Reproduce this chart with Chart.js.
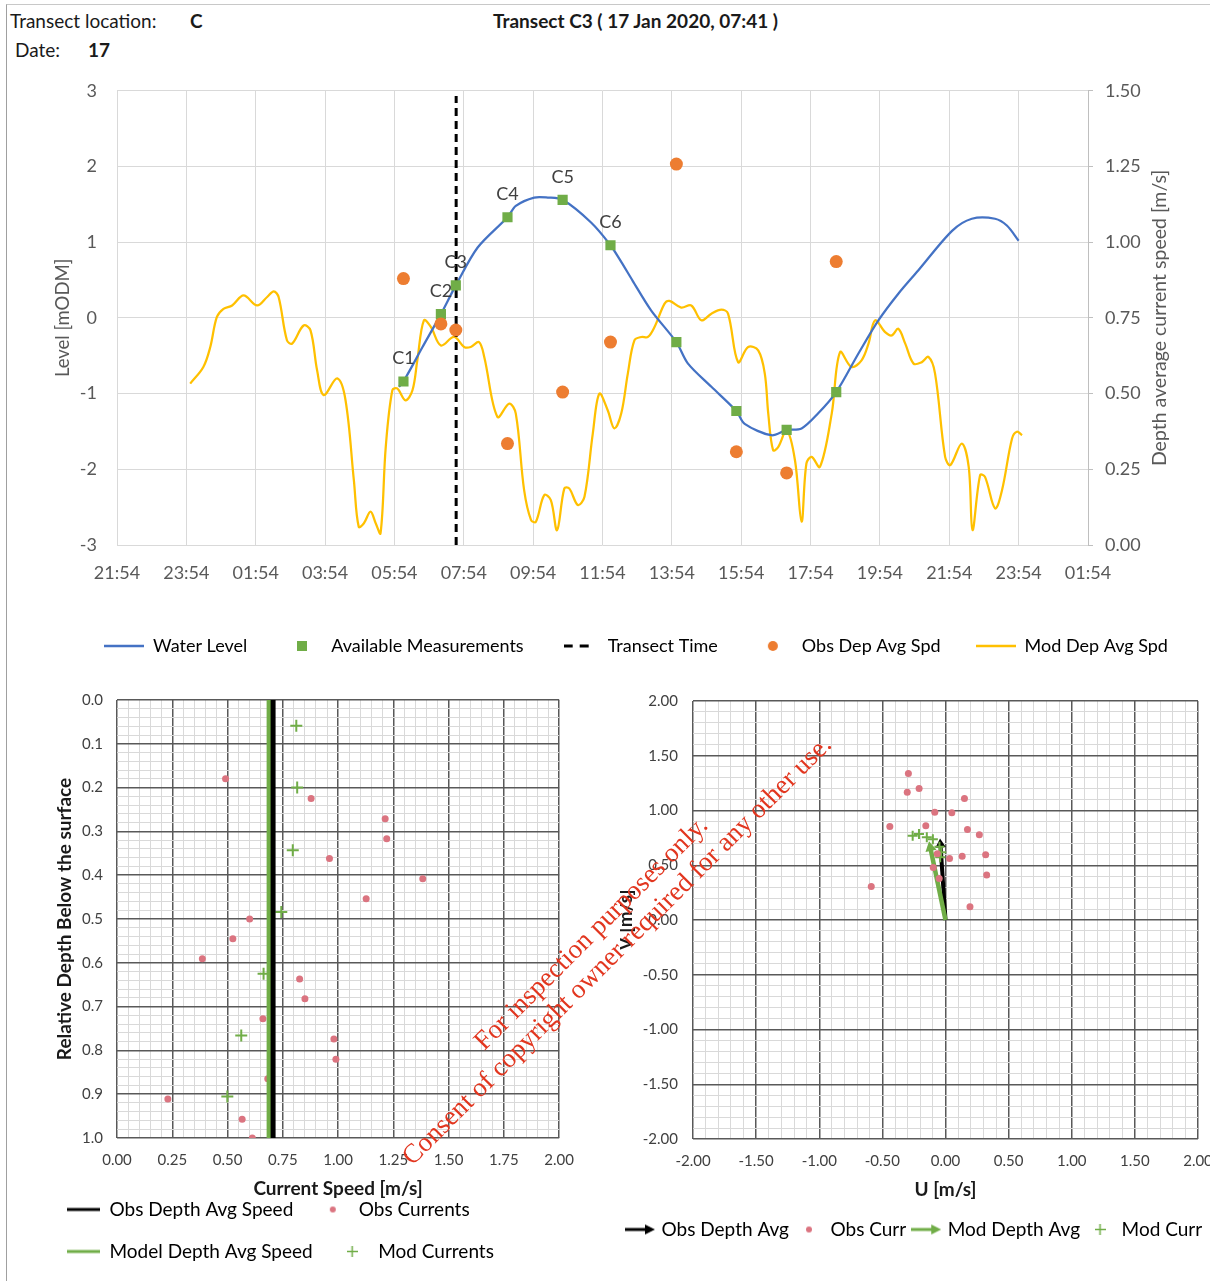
<!DOCTYPE html>
<html>
<head>
<meta charset="utf-8">
<script src="https://cdn.jsdelivr.net/npm/chart.js@4.4.1/dist/chart.umd.min.js"></script>
<style>
html, body { margin: 0; padding: 0; background: #fff; }
body { width: 1210px; height: 1281px; position: relative; overflow: hidden; font-family: Lato, sans-serif; }
.frame { position: absolute; left: 6px; top: 4px; width: 1300px; height: 1300px; border-left: 1.5px solid #a0a0a0; border-top: 1.5px solid #c8c8c8; }
.cell { position: absolute; font-size: 19px; color: #1a1a1a; white-space: nowrap; line-height: 22px; }
.b { font-weight: bold; }
.wm { position: absolute; font-family: "Liberation Serif", serif; font-size: 27px; color: #e2361f; white-space: nowrap; line-height: 30px; transform-origin: 0 50%; transform: rotate(-45deg); z-index: 5; }
canvas { position: absolute; }
</style>
</head>
<body>
<div class="frame"></div>
<div class="cell" style="left:10px;top:10px">Transect location:</div>
<div class="cell b" style="left:190px;top:10px">C</div>
<div class="cell" style="left:15px;top:39px">Date:</div>
<div class="cell b" style="left:88px;top:39px">17</div>
<div class="cell b" style="left:493px;top:10px">Transect C3 ( 17 Jan 2020, 07:41 )</div>

<canvas id="tide" width="1272" height="605" style="left:0;top:60px"></canvas>
<canvas id="profile" width="543" height="594" style="left:44px;top:677px"></canvas>
<canvas id="vectors" width="700" height="572" style="left:620px;top:677px"></canvas>

<div class="wm" style="left:478px;top:1030px">For inspection purposes only.</div>
<div class="wm" style="left:406px;top:1145px">Consent of copyright owner required for any other use.</div>

<script>
// ---- top chart: hours after 16 Jan 21:54 ----
const timeTickLabels = ['21:54','23:54','01:54','03:54','05:54','07:54','09:54','11:54','13:54','15:54','17:54','19:54','21:54','23:54','01:54'];

const waterHours = [8.13, 8.26, 8.81, 9.34, 9.77, 10.40, 11.26, 11.50, 12.03, 12.42, 12.85, 13.67, 14.23, 14.54, 14.87, 15.40, 16.13, 16.46, 17.14, 17.86, 18.10, 18.87, 19.31, 19.74, 20.22, 20.74, 21.38, 21.96, 22.53, 23.11, 24.08, 24.65, 25.32, 25.66, 26.00];
const waterLevel = [-0.91, -0.84, -0.385, 0.05, 0.43, 0.93, 1.33, 1.48, 1.59, 1.59, 1.56, 1.26, 0.96, 0.74, 0.49, 0.10, -0.32, -0.60, -0.91, -1.23, -1.40, -1.55, -1.48, -1.46, -1.26, -0.98, -0.47, -0.03, 0.32, 0.63, 1.15, 1.31, 1.31, 1.22, 1.02];

const measLabels = ['C1', 'C2', 'C3', 'C4', 'C5', 'C6', '', '', '', ''];
const measHours = [8.26, 9.34, 9.77, 11.26, 12.85, 14.23, 16.13, 17.86, 19.31, 20.74];
const measLevel = [-0.84, 0.05, 0.43, 1.33, 1.56, 0.96, -0.32, -1.23, -1.48, -0.98];
const obsDepAvgSpd = [0.88, 0.73, 0.71, 0.335, 0.505, 0.67, 1.258, 0.308, 0.238, 0.936];

const transectHour = 9.78; // 07:41

const modHours = [2.11, 2.49, 2.69, 2.88, 3.07, 3.32, 3.65, 4.04, 4.33, 4.52, 4.66, 4.90, 5.05, 5.38, 5.58, 5.77, 5.96, 6.35, 6.59, 6.83,
  6.97, 7.12, 7.31, 7.46, 7.60, 7.75, 7.94, 8.08, 8.32, 8.52, 8.66, 8.85, 9.05, 9.34, 9.72, 10.01, 10.20, 10.44, 10.59, 10.97,
  11.31, 11.50, 11.74, 11.94, 12.08, 12.32, 12.51, 12.69, 12.90, 13.04, 13.29, 13.48, 13.72, 13.91, 14.15, 14.34, 14.54, 14.73, 14.92, 15.12,
  15.31, 15.50, 15.79, 15.93, 16.27, 16.56, 16.85, 17.14, 17.43, 17.62, 17.91, 18.20, 18.49, 18.68, 18.78, 18.92, 19.07, 19.31, 19.55, 19.74,
  19.88, 20.03, 20.27, 20.61, 20.85, 21.18, 21.47, 21.67, 21.86, 22.15, 22.34, 22.53, 22.73, 22.97, 23.21, 23.40, 23.59, 23.88, 24.03, 24.36,
  24.56, 24.67, 24.89, 25.03, 25.32, 25.52, 25.81, 25.95, 26.10];
const modSpeed = [0.533, 0.588, 0.654, 0.753, 0.780, 0.791, 0.824, 0.791, 0.819, 0.838, 0.819, 0.676, 0.665, 0.725, 0.709, 0.577, 0.495, 0.55, 0.478, 0.214,
  0.06, 0.072, 0.11, 0.072, 0.039, 0.324, 0.511, 0.517, 0.478, 0.511, 0.61, 0.742, 0.72, 0.659, 0.687, 0.654, 0.654, 0.67, 0.621, 0.423,
  0.467, 0.434, 0.181, 0.082, 0.077, 0.165, 0.148, 0.049, 0.187, 0.187, 0.132, 0.159, 0.368, 0.50, 0.445, 0.385, 0.434, 0.566, 0.676, 0.687,
  0.687, 0.72, 0.797, 0.806, 0.784, 0.791, 0.742, 0.764, 0.777, 0.764, 0.604, 0.654, 0.643, 0.566, 0.434, 0.313, 0.324, 0.379, 0.28, 0.077,
  0.269, 0.291, 0.258, 0.434, 0.637, 0.588, 0.61, 0.665, 0.742, 0.703, 0.692, 0.714, 0.665, 0.599, 0.604, 0.621, 0.566, 0.291, 0.264, 0.335,
  0.258, 0.049, 0.231, 0.225, 0.121, 0.181, 0.352, 0.374, 0.363];

// ---- bottom left: speed profile ----
const obsCurSpeed = [0.491, 0.878, 1.213, 1.22, 0.961, 1.383, 1.127, 0.60, 0.524, 0.386, 0.826, 0.85, 0.66, 0.981, 0.99, 0.682, 0.23, 0.566, 0.612];
const obsCurDepth = [0.18, 0.225, 0.271, 0.317, 0.362, 0.408, 0.454, 0.50, 0.545, 0.591, 0.637, 0.682, 0.728, 0.774, 0.82, 0.865, 0.911, 0.957, 1.0];
const modCurSpeed = [0.811, 0.815, 0.795, 0.743, 0.663, 0.562, 0.499];
const modCurDepth = [0.059, 0.20, 0.343, 0.484, 0.625, 0.766, 0.905];
const obsDepthAvgSpeed = 0.706;
const modDepthAvgSpeed = 0.688;

// ---- bottom right: U/V ----
const obsU = [-0.294, -0.303, -0.209, 0.15, -0.085, 0.05, -0.441, -0.156, 0.174, 0.268, 0.318, 0.132, 0.032, 0.326, -0.588, 0.194, -0.097, -0.05, -0.065];
const obsV = [1.339, 1.167, 1.2, 1.109, 0.985, 0.979, 0.855, 0.861, 0.827, 0.779, 0.597, 0.582, 0.561, 0.412, 0.306, 0.121, 0.479, 0.379, 0.606];
const modU = [-0.26, -0.21, -0.148, -0.10, -0.048, -0.034, -0.042];
const modV = [0.77, 0.786, 0.755, 0.737, 0.67, 0.618, 0.573];
const obsAvgUV = [-0.04, 0.69];
const modAvgUV = [-0.12, 0.66];

Chart.defaults.font.family = 'Lato, sans-serif';
Chart.defaults.color = '#595959';
Chart.defaults.animation = false;
Chart.defaults.plugins.tooltip.enabled = false;

const pts = (xs, ys) => xs.map((x, i) => ({ x: x, y: ys[i] }));
const isMajor = (v, step) => Math.abs(v / step - Math.round(v / step)) < 1e-6;

// little canvases used as legend symbols
function icon(w, h, draw) {
  const c = document.createElement('canvas');
  c.width = w; c.height = h;
  draw(c.getContext('2d'), w, h);
  return c;
}
function lineIcon(color, lw, w, dash) {
  return icon(w, 14, (g, W, H) => {
    g.strokeStyle = color; g.lineWidth = lw;
    if (dash) g.setLineDash(dash);
    g.beginPath(); g.moveTo(0, H / 2); g.lineTo(W, H / 2); g.stroke();
  });
}
function squareIcon(color, s) {
  return icon(s, s, (g) => { g.fillStyle = color; g.fillRect(0, 0, s, s); });
}
function dotIcon(color, r) {
  return icon(2 * r + 2, 2 * r + 2, (g) => { g.fillStyle = color; g.beginPath(); g.arc(r + 1, r + 1, r, 0, Math.PI * 2); g.fill(); });
}
function plusIcon(color, s, lw) {
  return icon(s, s, (g) => {
    g.strokeStyle = color; g.lineWidth = lw;
    g.beginPath(); g.moveTo(s / 2, 0); g.lineTo(s / 2, s); g.moveTo(0, s / 2); g.lineTo(s, s / 2); g.stroke();
  });
}
function arrowIcon(color, w, lw) {
  return icon(w, 14, (g, W, H) => {
    g.strokeStyle = color; g.fillStyle = color; g.lineWidth = lw;
    g.beginPath(); g.moveTo(0, H / 2); g.lineTo(W - 8, H / 2); g.stroke();
    g.beginPath(); g.moveTo(W, H / 2); g.lineTo(W - 10, H / 2 - 5); g.lineTo(W - 10, H / 2 + 5); g.closePath(); g.fill();
  });
}
const legendFromIcons = (chart) => chart.data.datasets.map((ds, i) => ({
  text: ds.label, pointStyle: ds.legendIcon, datasetIndex: i,
  lineWidth: 0, strokeStyle: 'rgba(0,0,0,0)', fillStyle: 'rgba(0,0,0,0)', hidden: false
}));

// ================= top chart =================
const y2Title = 'Depth average current speed [m/s]';

const measLabelPlugin = {
  id: 'measLabels',
  afterDatasetsDraw(chart) {
    const meta = chart.getDatasetMeta(1);
    const ctx = chart.ctx;
    ctx.save();
    ctx.font = '18px Lato, sans-serif';
    ctx.fillStyle = '#404040';
    ctx.textAlign = 'center';
    ctx.textBaseline = 'middle';
    meta.data.forEach((p, i) => { if (measLabels[i]) ctx.fillText(measLabels[i], p.x, p.y - 23); });
    ctx.restore();
  }
};
const rightTitlePlugin = {
  id: 'rightTitle',
  afterDraw(chart) {
    const ctx = chart.ctx, a = chart.chartArea, s = chart.scales.y2;
    ctx.save();
    ctx.translate(s.left + 72, (a.top + a.bottom) / 2);
    ctx.rotate(-Math.PI / 2);
    ctx.font = '19.5px Lato, sans-serif';
    ctx.fillStyle = '#595959';
    ctx.textAlign = 'center';
    ctx.textBaseline = 'middle';
    ctx.fillText(y2Title, 0, 0);
    ctx.restore();
  }
};

new Chart(document.getElementById('tide'), {
  type: 'scatter',
  data: {
    datasets: [
      { label: 'Water Level', data: pts(waterHours, waterLevel), yAxisID: 'y', showLine: true,
        borderColor: '#4472C4', borderWidth: 2.25, pointRadius: 0, tension: 0.3, order: 3,
        legendIcon: lineIcon('#4472C4', 2.5, 40) },
      { label: 'Available Measurements', data: pts(measHours, measLevel), yAxisID: 'y',
        pointStyle: 'rect', pointRadius: 7.2, backgroundColor: '#70AD47', borderWidth: 0, order: 1,
        legendIcon: squareIcon('#70AD47', 10) },
      { label: 'Transect Time', data: [{ x: transectHour, y: -3 }, { x: transectHour, y: 2.93 }], yAxisID: 'y', showLine: true,
        borderColor: '#000', borderWidth: 3, borderDash: [8, 5], pointRadius: 0, order: 2,
        legendIcon: lineIcon('#000', 3, 30, [9, 7]) },
      { label: 'Obs Dep Avg Spd', data: pts(measHours, obsDepAvgSpd), yAxisID: 'y2',
        pointRadius: 6.5, backgroundColor: '#ED7D31', borderWidth: 0, order: 0,
        legendIcon: dotIcon('#ED7D31', 5) },
      { label: 'Mod Dep Avg Spd', data: pts(modHours, modSpeed), yAxisID: 'y2', showLine: true,
        borderColor: '#FFC000', borderWidth: 2.25, pointRadius: 0, tension: 0.35, order: 4,
        legendIcon: lineIcon('#FFC000', 2.5, 40) }
    ]
  },
  options: {
    responsive: false,
    layout: { padding: { top: 0, left: 0, right: 0, bottom: 0 } },
    scales: {
      x: {
        type: 'linear', min: 0, max: 28,
        ticks: { stepSize: 2, maxTicksLimit: 15, autoSkip: false, maxRotation: 0, padding: 17,
          font: { size: 18 }, color: '#595959', callback: (v) => timeTickLabels[Math.round(v / 2)] },
        grid: { color: '#d9d9d9', drawTicks: false },
        border: { display: false },
        afterFit: (s) => { s.height = 57; }
      },
      y: {
        min: -3, max: 3,
        ticks: { stepSize: 1, padding: 20, font: { size: 18 }, color: '#595959' },
        grid: { color: '#d9d9d9', drawTicks: false },
        border: { display: false },
        title: { display: true, text: 'Level [mODM]', font: { size: 18.5 }, color: '#595959', padding: { top: 52, bottom: 0 } },
        afterFit: (s) => { s.width = 117; }
      },
      y2: {
        position: 'right', min: 0, max: 1.5,
        ticks: { stepSize: 0.25, padding: 12, font: { size: 18 }, color: '#595959', callback: (v) => v.toFixed(2) },
        grid: { drawOnChartArea: false, color: '#bfbfbf', tickLength: 5 },
        border: { display: true, color: '#bfbfbf' },
        afterFit: (s) => { s.width = 1272 - 1088; }
      }
    },
    plugins: {
      legend: {
        position: 'bottom',
        labels: { usePointStyle: true, pointStyleWidth: 40, padding: 35, font: { size: 18 }, color: '#595959', generateLabels: legendFromIcons }
      }
    }
  },
  plugins: [measLabelPlugin, rightTitlePlugin]
});

// ================= bottom left: speed vs depth =================
const gridMajor = '#595959', gridMinor = '#d9d9d9';

new Chart(document.getElementById('profile'), {
  type: 'scatter',
  data: {
    datasets: [
      { label: 'Obs Depth Avg Speed', data: [{ x: obsDepthAvgSpeed, y: 0 }, { x: obsDepthAvgSpeed, y: 1 }], showLine: true,
        borderColor: '#000', borderWidth: 5, pointRadius: 0, order: 0, legendIcon: lineIcon('#000', 3, 33) },
      { label: 'Obs Currents', data: pts(obsCurSpeed, obsCurDepth),
        pointRadius: 3.5, backgroundColor: '#DB7480', borderWidth: 0, order: 2, legendIcon: dotIcon('#DB7480', 3) },
      { label: 'Model Depth Avg Speed', data: [{ x: modDepthAvgSpeed, y: 0 }, { x: modDepthAvgSpeed, y: 1 }], showLine: true,
        borderColor: '#70AD47', borderWidth: 5, pointRadius: 0, order: 1, legendIcon: lineIcon('#70AD47', 3, 33) },
      { label: 'Mod Currents', data: pts(modCurSpeed, modCurDepth),
        pointStyle: 'cross', pointRadius: 6, borderColor: '#70AD47', borderWidth: 2, order: 3, legendIcon: plusIcon('#70AD47', 11, 1.5) }
    ]
  },
  options: {
    responsive: false,
    layout: { padding: { top: 0, left: 0, right: 27, bottom: 0 } },
    scales: {
      x: {
        type: 'linear', min: 0, max: 2,
        ticks: { stepSize: 0.05, maxTicksLimit: 41, autoSkip: false, maxRotation: 0, padding: 13, font: { size: 15 }, color: '#404040',
          callback: (v) => isMajor(v, 0.25) ? v.toFixed(2) : '' },
        grid: { drawTicks: false, color: (c) => isMajor(c.tick.value, 0.25) ? gridMajor : gridMinor,
          lineWidth: (c) => isMajor(c.tick.value, 0.25) ? 1.5 : 1 },
        border: { display: false },
        title: { display: true, text: 'Current Speed [m/s]', font: { size: 19, weight: 'bold' }, color: '#1a1a1a', padding: { top: 0, bottom: -23 } },
        afterFit: (s) => { s.height = 39; }
      },
      y: {
        reverse: true, min: 0, max: 1,
        ticks: { stepSize: 0.02, maxTicksLimit: 51, autoSkip: false, padding: 14, font: { size: 15 }, color: '#404040',
          callback: (v) => isMajor(v, 0.1) ? v.toFixed(1) : '' },
        grid: { drawTicks: false, color: (c) => isMajor(c.tick.value, 0.1) ? gridMajor : gridMinor,
          lineWidth: (c) => isMajor(c.tick.value, 0.1) ? 1.5 : 1 },
        border: { display: false },
        title: { display: true, text: 'Relative Depth Below the surface', font: { size: 19, weight: 'bold' }, color: '#1a1a1a', padding: { top: 9.5, bottom: 0 } },
        afterFit: (s) => { s.width = 73; }
      }
    },
    plugins: {
      legend: {
        position: 'bottom', align: 'start',
        labels: { usePointStyle: true, pointStyleWidth: 33, padding: 23, font: { size: 19 }, color: '#262626', generateLabels: legendFromIcons }
      }
    }
  }
});

// ================= bottom right: U/V vectors =================
function arrowRotation(ctx, uv) {
  const xs = ctx.chart.scales.x, ys = ctx.chart.scales.y;
  const dx = xs.getPixelForValue(uv[0]) - xs.getPixelForValue(0);
  const dy = ys.getPixelForValue(0) - ys.getPixelForValue(uv[1]);
  return Math.atan2(dx, dy) * 180 / Math.PI;
}

new Chart(document.getElementById('vectors'), {
  type: 'scatter',
  data: {
    datasets: [
      { label: 'Obs Depth Avg', data: [{ x: 0, y: 0 }, { x: obsAvgUV[0], y: obsAvgUV[1] }], showLine: true,
        borderColor: '#000', borderWidth: 4, backgroundColor: '#000', pointStyle: 'triangle',
        pointRadius: (c) => c.dataIndex === 1 ? 6 : 0, pointBorderWidth: 0,
        pointRotation: (c) => arrowRotation(c, obsAvgUV), order: 3, legendIcon: arrowIcon('#000', 30, 3) },
      { label: 'Obs Curr', data: pts(obsU, obsV),
        pointRadius: 3.5, backgroundColor: '#DB7480', borderWidth: 0, order: 0, legendIcon: dotIcon('#DB7480', 3) },
      { label: 'Mod Depth Avg', data: [{ x: 0, y: 0 }, { x: modAvgUV[0], y: modAvgUV[1] }], showLine: true,
        borderColor: '#70AD47', borderWidth: 4.5, backgroundColor: '#70AD47', pointStyle: 'triangle',
        pointRadius: (c) => c.dataIndex === 1 ? 6.5 : 0, pointBorderWidth: 0,
        pointRotation: (c) => arrowRotation(c, modAvgUV), order: 2, legendIcon: arrowIcon('#70AD47', 30, 3) },
      { label: 'Mod Curr', data: pts(modU, modV),
        pointStyle: 'cross', pointRadius: 5, borderColor: '#70AD47', borderWidth: 2, order: 1, legendIcon: plusIcon('#70AD47', 11, 1.5) }
    ]
  },
  options: {
    responsive: false,
    layout: { padding: { top: 0, left: 0, right: 0, bottom: 0 } },
    scales: {
      x: {
        type: 'linear', min: -2, max: 2,
        ticks: { stepSize: 0.1, maxTicksLimit: 41, autoSkip: false, maxRotation: 0, padding: 13, font: { size: 15 }, color: '#404040',
          callback: (v) => isMajor(v, 0.5) ? v.toFixed(2) : '' },
        grid: { drawTicks: false, color: (c) => isMajor(c.tick.value, 0.5) ? gridMajor : gridMinor,
          lineWidth: (c) => isMajor(c.tick.value, 0.5) ? 1.5 : 1 },
        border: { display: false },
        title: { display: true, text: 'U [m/s]', font: { size: 19, weight: 'bold' }, color: '#1a1a1a', padding: { top: 0, bottom: 10.5 } },
        afterFit: (s) => { s.height = 73; }
      },
      y: {
        min: -2, max: 2,
        ticks: { stepSize: 0.1, maxTicksLimit: 41, autoSkip: false, padding: 15, font: { size: 15 }, color: '#404040',
          callback: (v) => isMajor(v, 0.5) ? v.toFixed(2) : '' },
        grid: { drawTicks: false, color: (c) => isMajor(c.tick.value, 0.5) ? gridMajor : gridMinor,
          lineWidth: (c) => isMajor(c.tick.value, 0.5) ? 1.5 : 1 },
        border: { display: false },
        title: { display: true, text: 'V [m/s]', font: { size: 19, weight: 'bold' }, color: '#1a1a1a', padding: { top: -6, bottom: 0 } },
        afterFit: (s) => { s.width = 73; }
      },
      // empty right-hand axis: keeps the plot edge at U = 2 while the legend may use the full canvas width
      spacer: {
        type: 'linear', position: 'right', display: true,
        ticks: { display: false }, grid: { display: false, drawTicks: false }, border: { display: false },
        afterFit: (s) => { s.width = 700 - (1198 - 620); }
      }
    },
    plugins: {
      legend: {
        position: 'bottom', align: 'start',
        labels: { usePointStyle: true, pointStyleWidth: 24, padding: 8, font: { size: 19 }, color: '#262626', generateLabels: legendFromIcons }
      }
    }
  }
});
</script>
</body>
</html>
